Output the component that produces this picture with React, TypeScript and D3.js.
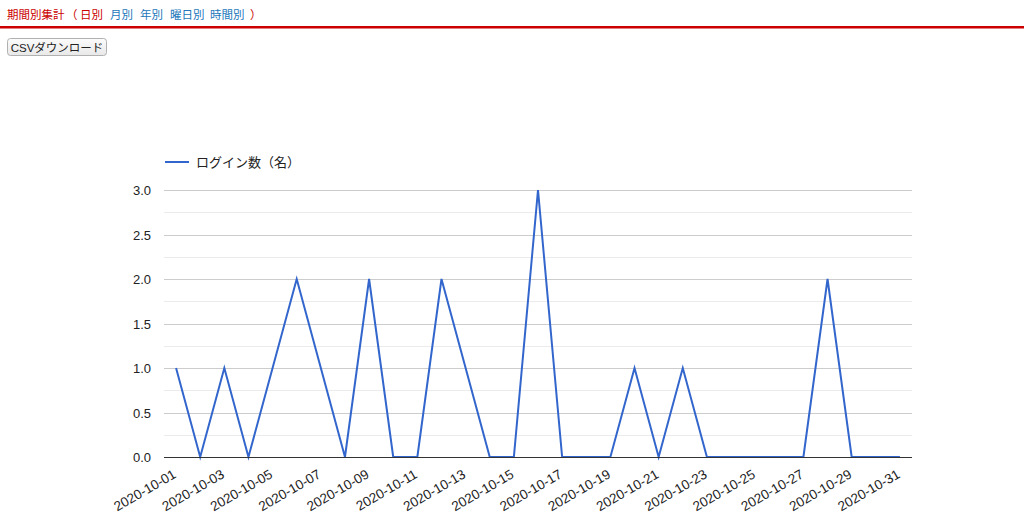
import React, { useEffect, useRef } from 'react';
import * as d3 from 'd3';

const dates = d3.range(1, 32).map(d => `2020-10-${String(d).padStart(2, '0')}`);
const logins = [1, 0, 1, 0, 1, 2, 1, 0, 2, 0, 0, 2, 1, 0, 0, 3, 0, 0, 0, 1, 0, 1, 0, 0, 0, 0, 0, 2, 0, 0, 0];
const yTicks = [0, 0.5, 1, 1.5, 2, 2.5, 3];
const minorTicks = [0.25, 0.75, 1.25, 1.75, 2.25, 2.75];
const seriesName = 'ログイン数（名）';
const navLinks = ['月別', '年別', '曜日別', '時間別'];
const navX = [110, 140, 170, 210];

const W = 1024;
const H = 529;

export default function App() {
  const svgRef = useRef<SVGSVGElement>(null);

  useEffect(() => {
    if (!svgRef.current) return;
    const svg = d3.select(svgRef.current);
    svg.selectAll('*').remove();
    const font = 'Arial, "Liberation Sans", "Noto Sans CJK JP", sans-serif';

    // header
    const head = svg.append('text')
      .attr('y', 19)
      .attr('font-family', font).attr('font-size', 11.5);
    head.append('tspan').attr('x', 7).attr('fill', '#cc0000').text('期間別集計');
    head.append('tspan').attr('x', 66).attr('fill', '#cc0000').text('（');
    head.append('tspan').attr('x', 80).attr('fill', '#cc0000').text('日別');
    navLinks.forEach((l, i) => head.append('tspan').attr('x', navX[i]).attr('fill', '#2277bb').text(l));
    head.append('tspan').attr('x', 250).attr('fill', '#cc0000').text('）');

    svg.append('rect')
      .attr('x', 0).attr('y', 26).attr('width', W).attr('height', 2.5)
      .attr('fill', '#cc0000');

    // button
    const grad = svg.append('defs').append('linearGradient')
      .attr('id', 'btn').attr('x1', 0).attr('x2', 0).attr('y1', 0).attr('y2', 1);
    grad.append('stop').attr('offset', '0%').attr('stop-color', '#fcfcfc');
    grad.append('stop').attr('offset', '100%').attr('stop-color', '#e8e8e8');
    svg.append('rect')
      .attr('x', 7.5).attr('y', 38.5).attr('width', 99).attr('height', 17).attr('rx', 3)
      .attr('fill', 'url(#btn)').attr('stroke', '#b0b0b0');
    svg.append('text')
      .attr('x', 57).attr('y', 51.5).attr('text-anchor', 'middle')
      .attr('font-family', font).attr('font-size', 11.5).attr('fill', '#222')
      .text('CSVダウンロード');

    // chart
    const left = 164, right = 912, top = 190, bottom = 457;
    const x = d3.scalePoint<string>().domain(dates).range([left, right]).padding(0.5);
    const y = d3.scaleLinear().domain([0, 3]).range([bottom, top]);

    const g = svg.append('g');
    g.selectAll('line.minor').data(minorTicks).join('line')
      .attr('x1', left).attr('x2', right)
      .attr('y1', d => Math.round(y(d)) + 0.5).attr('y2', d => Math.round(y(d)) + 0.5)
      .attr('stroke', '#ebebeb');
    g.selectAll('line.major').data(yTicks.filter(d => d > 0)).join('line')
      .attr('x1', left).attr('x2', right)
      .attr('y1', d => Math.round(y(d)) + 0.5).attr('y2', d => Math.round(y(d)) + 0.5)
      .attr('stroke', '#cccccc');

    g.selectAll('text.ytick').data(yTicks).join('text')
      .attr('x', 151).attr('y', d => y(d) + 5)
      .attr('text-anchor', 'end')
      .attr('font-family', font).attr('font-size', 13).attr('fill', '#222')
      .text(d => d.toFixed(1));

    const line = d3.line<number>()
      .x((_, i) => x(dates[i]) as number)
      .y(d => y(d));
    g.append('path')
      .datum(logins)
      .attr('fill', 'none')
      .attr('stroke', '#3366cc')
      .attr('stroke-width', 2)
      .attr('d', line);

    g.append('line')
      .attr('x1', left).attr('x2', right)
      .attr('y1', bottom + 0.5).attr('y2', bottom + 0.5)
      .attr('stroke', '#333');

    g.selectAll('text.xtick').data(dates.filter((_, i) => i % 2 === 0)).join('text')
      .attr('transform', d => `translate(${(x(d) as number) + 1},${bottom + 20}) rotate(-30)`)
      .attr('text-anchor', 'end')
      .attr('font-family', font).attr('font-size', 13.5).attr('fill', '#222')
      .text(d => d);

    // legend
    svg.append('line')
      .attr('x1', 165).attr('x2', 189).attr('y1', 162).attr('y2', 162)
      .attr('stroke', '#3366cc').attr('stroke-width', 2);
    svg.append('text')
      .attr('x', 196).attr('y', 167)
      .attr('font-family', font).attr('font-size', 13).attr('fill', '#222')
      .text(seriesName);
  }, []);

  return (
    <div style={{ position: 'absolute', left: 0, top: 0, width: W, height: H, background: '#fff' }}>
      <svg ref={svgRef} width={W} height={H} />
    </div>
  );
}
